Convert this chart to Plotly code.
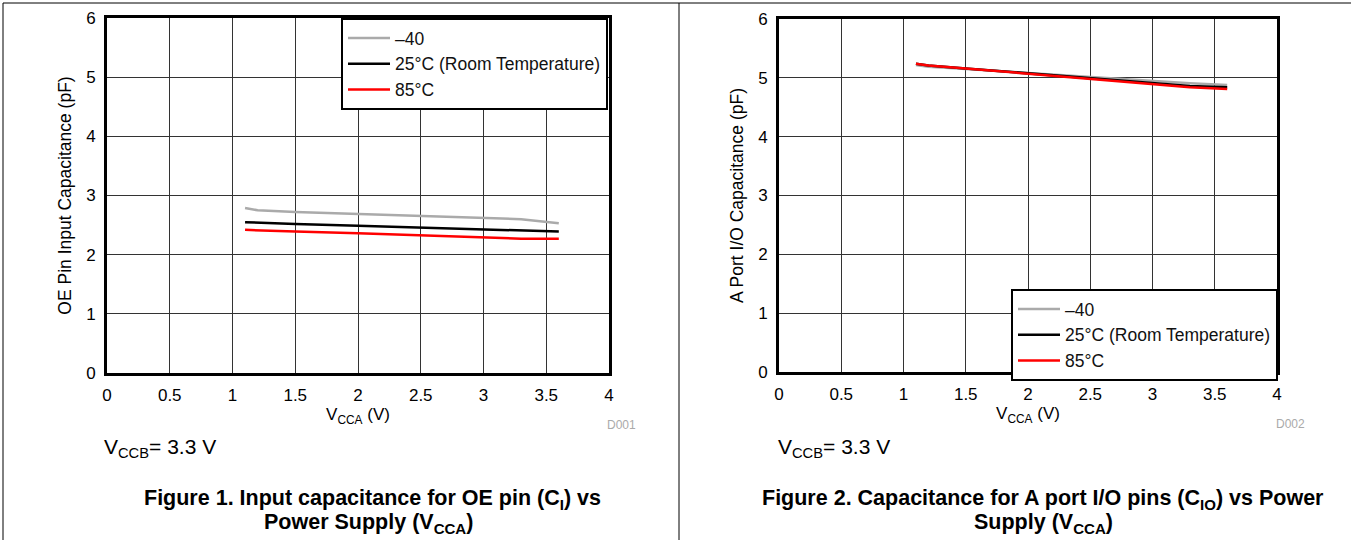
import plotly.graph_objects as go

W, H = 1351, 540

# Figure 1 data: OE pin input capacitance (pF) vs VCCA (V)
vcca = [1.1, 1.2, 1.5, 2.0, 2.5, 3.0, 3.3, 3.6]
oe_m40 = [2.79, 2.75, 2.72, 2.69, 2.65, 2.62, 2.60, 2.53]
oe_25 = [2.55, 2.54, 2.52, 2.49, 2.46, 2.43, 2.40, 2.39]
oe_85 = [2.42, 2.41, 2.39, 2.36, 2.33, 2.30, 2.27, 2.27]

# Figure 2 data: A port I/O capacitance (pF) vs VCCA (V)
aio_m40 = [5.22, 5.19, 5.15, 5.08, 5.02, 4.95, 4.91, 4.88]
aio_25 = [5.24, 5.21, 5.16, 5.08, 5.00, 4.91, 4.86, 4.84]
aio_85 = [5.24, 5.21, 5.16, 5.07, 4.99, 4.90, 4.84, 4.81]

series_names = ["\u201340", "25\u00b0C (Room Temperature)", "85\u00b0C"]
series_colors = ["#aaaaaa", "#000000", "#ff0000"]

x_ticks = [0, 0.5, 1, 1.5, 2, 2.5, 3, 3.5, 4]
x_tick_labels = ["0", "0.5", "1", "1.5", "2", "2.5", "3", "3.5", "4"]
y_ticks = [0, 1, 2, 3, 4, 5, 6]

FONT = "Liberation Sans, Arial, sans-serif"

fig = go.Figure()

for vals, name, col in zip([oe_m40, oe_25, oe_85], series_names, series_colors):
    fig.add_trace(go.Scatter(x=vcca, y=vals, mode="lines", name=name,
                             line=dict(color=col, width=2.5),
                             xaxis="x", yaxis="y", legend="legend"))
for vals, name, col in zip([aio_m40, aio_25, aio_85], series_names, series_colors):
    fig.add_trace(go.Scatter(x=vcca, y=vals, mode="lines", name=name,
                             line=dict(color=col, width=2.5),
                             xaxis="x2", yaxis="y2", legend="legend2"))

def px(x):
    return x / W

def py(y):
    return 1 - y / H

axis_common = dict(
    showline=True, linewidth=3, linecolor="black", mirror=True,
    showgrid=True, gridcolor="#333333", gridwidth=1,
    zeroline=False, automargin=False,
    ticks="outside", ticklen=5, tickcolor="rgba(0,0,0,0)",
    tickfont=dict(family=FONT, size=17, color="#000"),
    fixedrange=True,
)

xa = dict(axis_common, range=[0, 4], tickvals=x_ticks, ticktext=x_tick_labels,
          title=dict(text="V<sub>CCA</sub> (V)", font=dict(family=FONT, size=17, color="#000"),
                     standoff=2))
fig.update_layout(
    xaxis=dict(xa, domain=[px(107), px(609)], anchor="y"),
    yaxis=dict(axis_common, range=[0, 6], tickvals=y_ticks, domain=[py(373), py(18)], anchor="x",
               title=dict(text="OE Pin Input Capacitance (pF)",
                          font=dict(family=FONT, size=17.5, color="#000"), standoff=11)),
    xaxis2=dict(xa, domain=[px(779), px(1277)], anchor="y2"),
    yaxis2=dict(axis_common, range=[0, 6], tickvals=y_ticks, domain=[py(372), py(19)], anchor="x2",
                title=dict(text="A Port I/O Capacitance (pF)",
                           font=dict(family=FONT, size=17.5, color="#000"), standoff=11)),
)

legend_common = dict(
    bgcolor="white", bordercolor="black", borderwidth=2,
    font=dict(family=FONT, size=17.5, color="#111"),
    xanchor="right", yanchor="top", itemwidth=42,
    tracegroupgap=0,
)
fig.update_layout(
    legend=dict(legend_common, x=px(608), y=py(18)),
    legend2=dict(legend_common, x=px(1278), y=py(289)),
)

annotations = [
    dict(text="D001", x=px(621), y=py(425), font=dict(family=FONT, size=12, color="#aaaaaa")),
    dict(text="D002", x=px(1290), y=py(424), font=dict(family=FONT, size=12, color="#aaaaaa")),
    dict(text="V<sub>CCB</sub>= 3.3 V", x=px(102), y=py(448), xanchor="left",
         font=dict(family=FONT, size=21, color="#000")),
    dict(text="V<sub>CCB</sub>= 3.3 V", x=px(776), y=py(448), xanchor="left",
         font=dict(family=FONT, size=21, color="#000")),
    dict(text="<b>Figure 1. Input capacitance for OE pin (C<sub>I</sub>) vs</b>",
         x=px(373), y=py(499), font=dict(family=FONT, size=21.5, color="#000")),
    dict(text="<b>Power Supply (V<sub>CCA</sub>)</b>",
         x=px(368), y=py(523), font=dict(family=FONT, size=21.5, color="#000")),
    dict(text="<b>Figure 2. Capacitance for A port I/O pins (C<sub>IO</sub>) vs Power</b>",
         x=px(1043), y=py(499), font=dict(family=FONT, size=21.5, color="#000")),
    dict(text="<b>Supply (V<sub>CCA</sub>)</b>",
         x=px(1043), y=py(523), font=dict(family=FONT, size=21.5, color="#000")),
]
for a in annotations:
    a.update(xref="paper", yref="paper", showarrow=False)
    a.setdefault("xanchor", "center")
    a.setdefault("yanchor", "middle")

shapes = [
    dict(type="line", x0=px(3), x1=1, y0=py(3), y1=py(3)),
    dict(type="line", x0=px(3), x1=px(3), y0=py(3), y1=0),
    dict(type="line", x0=px(679), x1=px(679), y0=py(3), y1=0),
]
for s in shapes:
    s.update(xref="paper", yref="paper", line=dict(color="black", width=1))

fig.update_layout(
    template="none",
    width=W, height=H, autosize=False,
    margin=dict(l=0, r=0, t=0, b=0, pad=0, autoexpand=False),
    paper_bgcolor="white", plot_bgcolor="white",
    annotations=annotations, shapes=shapes,
    font=dict(family=FONT),
)

post = (
    "document.documentElement.style.margin='0';"
    "document.body.style.margin='0';"
    "document.body.style.overflow='hidden';"
)
fig.write_html("out.html", config={"displayModeBar": False, "responsive": False},
               post_script=post)
